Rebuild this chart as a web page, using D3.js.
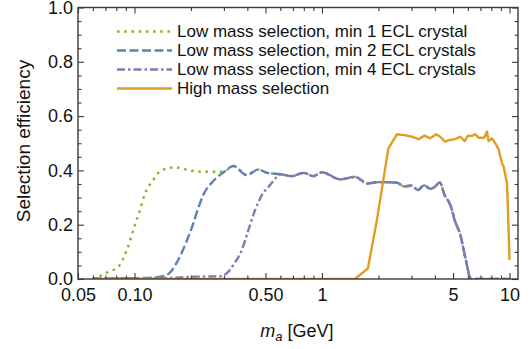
<!DOCTYPE html>
<html>
<head>
<meta charset="utf-8">
<script src="https://cdn.jsdelivr.net/npm/d3@7"></script>
<style>
  html, body { margin: 0; padding: 0; background: #fff; }
  svg { display: block; font-family: "Liberation Sans", Arial, Helvetica, sans-serif; }
</style>
</head>
<body>
<svg id="chart" width="529" height="349"></svg>
<script>
// ---- data (mass in GeV, selection efficiency) ----
const massMin1 = [0.060, 0.064, 0.073, 0.082, 0.091, 0.100, 0.107, 0.114, 0.124, 0.140, 0.165, 0.200, 0.233, 0.298, 0.337, 0.397, 0.458, 0.51, 0.60, 0.69, 0.80, 0.90, 1.0, 1.25, 1.5, 1.75, 2.0, 2.5, 2.75, 3.0, 3.25, 3.5, 3.8, 4.0, 4.25, 4.5, 4.85, 5.1, 5.5, 5.8, 6.25, 7.0, 8.0, 9.0, 10.0];
const effMin1  = [0.000, 0.008, 0.027, 0.045, 0.107, 0.193, 0.254, 0.316, 0.358, 0.401, 0.411, 0.399, 0.395, 0.395, 0.416, 0.383, 0.403, 0.391, 0.386, 0.379, 0.391, 0.379, 0.393, 0.367, 0.376, 0.352, 0.357, 0.355, 0.341, 0.344, 0.328, 0.345, 0.332, 0.340, 0.356, 0.310, 0.270, 0.217, 0.156, 0.082, 0.000, 0.000, 0.000, 0.000, 0.000];

const massMin2 = [0.060, 0.100, 0.130, 0.145, 0.155, 0.171, 0.190, 0.206, 0.215, 0.233, 0.264, 0.298, 0.337, 0.397, 0.458, 0.51, 0.60, 0.69, 0.80, 0.90, 1.0, 1.25, 1.5, 1.75, 2.0, 2.5, 2.75, 3.0, 3.25, 3.5, 3.8, 4.0, 4.25, 4.5, 4.85, 5.1, 5.5, 5.8, 6.25, 7.0, 8.0, 9.0, 10.0];
const effMin2  = [0.002, 0.003, 0.006, 0.012, 0.024, 0.070, 0.140, 0.205, 0.245, 0.310, 0.362, 0.392, 0.416, 0.383, 0.403, 0.391, 0.386, 0.379, 0.391, 0.379, 0.393, 0.367, 0.376, 0.352, 0.357, 0.355, 0.341, 0.344, 0.328, 0.345, 0.332, 0.340, 0.356, 0.310, 0.270, 0.217, 0.156, 0.082, 0.000, 0.000, 0.000, 0.000, 0.000];

const massMin4 = [0.060, 0.150, 0.200, 0.290, 0.315, 0.337, 0.374, 0.405, 0.440, 0.478, 0.529, 0.560, 0.60, 0.69, 0.80, 0.90, 1.0, 1.25, 1.5, 1.75, 2.0, 2.5, 2.75, 3.0, 3.25, 3.5, 3.8, 4.0, 4.25, 4.5, 4.85, 5.1, 5.5, 5.8, 6.25, 7.0, 8.0, 9.0, 10.0];
const effMin4  = [0.002, 0.004, 0.008, 0.010, 0.025, 0.052, 0.107, 0.180, 0.254, 0.309, 0.346, 0.368, 0.386, 0.379, 0.391, 0.379, 0.393, 0.367, 0.376, 0.352, 0.357, 0.355, 0.341, 0.344, 0.328, 0.345, 0.332, 0.340, 0.356, 0.310, 0.270, 0.217, 0.156, 0.082, 0.000, 0.000, 0.000, 0.000, 0.000];

const massHigh = [0.060, 1.50, 1.757, 1.963, 2.26, 2.51, 2.75, 3.02, 3.27, 3.52, 3.78, 4.07, 4.27, 4.54, 4.79, 5.14, 5.46, 5.76, 6.01, 6.31, 6.57, 6.84, 7.34, 7.59, 7.73, 8.07, 8.50, 8.75, 9.12, 9.30, 9.70, 9.85, 10.0];
const effHigh  = [0.000, 0.000, 0.039, 0.217, 0.481, 0.533, 0.530, 0.524, 0.515, 0.528, 0.518, 0.533, 0.524, 0.506, 0.512, 0.515, 0.524, 0.508, 0.528, 0.527, 0.533, 0.520, 0.520, 0.543, 0.508, 0.518, 0.494, 0.478, 0.426, 0.414, 0.352, 0.217, 0.070];

const seriesLabels = [
  "Low mass selection, min 1 ECL crystal",
  "Low mass selection, min 2 ECL crystals",
  "Low mass selection, min 4 ECL crystals",
  "High mass selection"
];
const xMajorTicks = [0.05, 0.1, 0.5, 1, 5, 10];
const xTickLabels = ["0.05", "0.10", "0.50", "1", "5", "10"];
const xMinorTicks = [0.06, 0.07, 0.08, 0.09, 0.2, 0.3, 0.4, 0.6, 0.7, 0.8, 0.9, 2, 3, 4, 6, 7, 8, 9];
const yMajorTicks = [0, 0.2, 0.4, 0.6, 0.8, 1.0];
const yTickLabels = ["0.0", "0.2", "0.4", "0.6", "0.8", "1.0"];
const yMinorTicks = [0.05, 0.1, 0.15, 0.25, 0.3, 0.35, 0.45, 0.5, 0.55, 0.65, 0.7, 0.75, 0.85, 0.9, 0.95];

// ---- layout / style ----
const L = 78, R = 518, T = 7.5, B = 279;
const colors = ["#8FB032", "#5E81B5", "#8778B3", "#E19C24"];
const dashes = ["2.6,4.6", "9,3.5", "8,3,2.5,3", null];
const frameColor = "#3a3a3a";

const svg = d3.select("#chart");
const x = d3.scaleLog().domain([0.05, 11.1]).range([L, R]);
const y = d3.scaleLinear().domain([0, 1]).range([B, T]);

const series = [
  massMin1.map((m, i) => [m, effMin1[i]]),
  massMin2.map((m, i) => [m, effMin2[i]]),
  massMin4.map((m, i) => [m, effMin4[i]]),
  massHigh.map((m, i) => [m, effHigh[i]])
];

// clip
svg.append("defs").append("clipPath").attr("id", "clip")
  .append("rect").attr("x", L).attr("y", T - 2).attr("width", R - L).attr("height", B - T + 2);

const plot = svg.append("g").attr("clip-path", "url(#clip)");
const lineSmooth = d3.line().x(d => x(d[0])).y(d => y(d[1])).curve(d3.curveMonotoneX);
const lineLin = d3.line().x(d => x(d[0])).y(d => y(d[1]));

series.forEach((s, i) => {
  plot.append("path")
    .attr("d", i === 3 ? lineLin(s) : lineSmooth(s))
    .attr("fill", "none")
    .attr("stroke", colors[i])
    .attr("stroke-width", 2.4)
    .attr("stroke-linejoin", "round")
    .attr("stroke-dasharray", dashes[i]);
});

// axes (ticks inward)
function styleAxis(g) {
  g.select(".domain").remove();
  g.selectAll(".tick line").attr("stroke", frameColor).attr("stroke-width", 1.1);
  g.selectAll(".tick text").attr("fill", "#111").attr("font-family", "Liberation Sans, Arial, sans-serif");
}
svg.append("g").attr("transform", `translate(0,${B})`)
  .call(d3.axisBottom(x).tickValues(xMajorTicks).tickSize(-6).tickPadding(9)
    .tickFormat((d, i) => xTickLabels[i]))
  .call(styleAxis)
  .selectAll("text").attr("font-size", 18);
svg.append("g").attr("transform", `translate(0,${B})`)
  .call(d3.axisBottom(x).tickValues(xMinorTicks).tickSize(-3.5).tickFormat(""))
  .call(styleAxis);
svg.append("g").attr("transform", `translate(0,${T})`)
  .call(d3.axisTop(x).tickValues(xMajorTicks).tickSize(-6).tickFormat(""))
  .call(styleAxis);
svg.append("g").attr("transform", `translate(0,${T})`)
  .call(d3.axisTop(x).tickValues(xMinorTicks).tickSize(-3.5).tickFormat(""))
  .call(styleAxis);

svg.append("g").attr("transform", `translate(${L},0)`)
  .call(d3.axisLeft(y).tickValues(yMajorTicks).tickSize(-6).tickPadding(5)
    .tickFormat((d, i) => yTickLabels[i]))
  .call(styleAxis)
  .selectAll("text").attr("font-size", 18);
svg.append("g").attr("transform", `translate(${L},0)`)
  .call(d3.axisLeft(y).tickValues(yMinorTicks).tickSize(-3.5).tickFormat(""))
  .call(styleAxis);
svg.append("g").attr("transform", `translate(${R},0)`)
  .call(d3.axisRight(y).tickValues(yMajorTicks).tickSize(-6).tickFormat(""))
  .call(styleAxis);
svg.append("g").attr("transform", `translate(${R},0)`)
  .call(d3.axisRight(y).tickValues(yMinorTicks).tickSize(-3.5).tickFormat(""))
  .call(styleAxis);

// frame
svg.append("rect").attr("x", L).attr("y", T).attr("width", R - L).attr("height", B - T)
  .attr("fill", "none").attr("stroke", frameColor).attr("stroke-width", 1.4);

// legend
const leg = svg.append("g");
seriesLabels.forEach((lab, i) => {
  const yy = 31.5 + i * 19;
  leg.append("line").attr("x1", 117).attr("x2", 172).attr("y1", yy).attr("y2", yy)
    .attr("stroke", colors[i]).attr("stroke-width", 2.4).attr("stroke-dasharray", dashes[i]);
  leg.append("text").attr("x", 177).attr("y", yy).attr("dy", "0.35em")
    .attr("font-size", 17).attr("fill", "#111").text(lab);
});

// axis labels
const xl = svg.append("text").attr("x", 297).attr("y", 337).attr("text-anchor", "middle")
  .attr("font-size", 18).attr("fill", "#111");
xl.append("tspan").attr("font-style", "italic").text("m");
xl.append("tspan").attr("font-style", "italic").attr("font-size", 13).attr("dy", 4).text("a");
xl.append("tspan").attr("dy", -4).text(" [GeV]");

svg.append("text").attr("transform", "translate(30,141) rotate(-90)")
  .attr("text-anchor", "middle").attr("font-size", 19).attr("fill", "#111")
  .text("Selection efficiency");
</script>
</body>
</html>
